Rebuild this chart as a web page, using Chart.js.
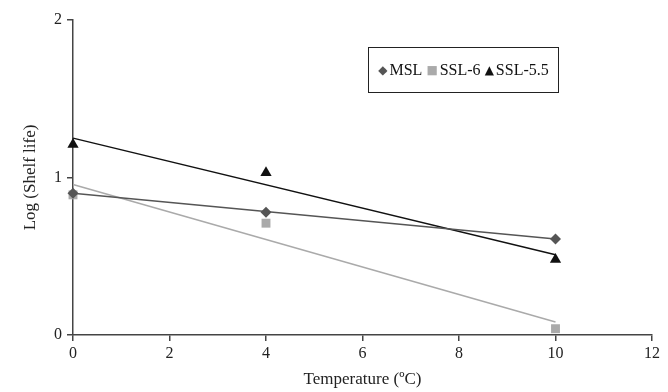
<!DOCTYPE html>
<html><head><meta charset="utf-8">
<script src="https://cdn.jsdelivr.net/npm/chart.js@4.4.0/dist/chart.umd.min.js"></script>
<style>
html,body{margin:0;padding:0;background:#fff;}
#wrap{position:relative;width:668px;height:392px;}
#legend{position:absolute;left:368px;top:47px;width:191px;height:46px;border:1px solid #222;box-sizing:border-box;
 font-family:"Liberation Serif","Times New Roman",serif;font-size:16px;color:#111;display:flex;align-items:center;justify-content:center;white-space:nowrap;}
#legend span.m{font-family:"DejaVu Sans";font-size:12px;margin-right:2px;}
</style></head>
<body><div id="wrap"><canvas id="c" width="668" height="392"></canvas>
<div id="legend"><span class="m" style="color:#555">&#9670;</span>MSL&nbsp;<span class="m" style="color:#aaa">&#9632;</span>SSL-6&nbsp;<span class="m" style="color:#111">&#9650;</span>SSL-5.5</div></div>
<script>
const temperatures = [0, 4, 10];
const seriesNames = ["MSL", "SSL-6", "SSL-5.5"];
const mslValues = [0.90, 0.78, 0.61];
const ssl6Values = [0.89, 0.71, 0.04];
const ssl55Values = [1.21, 1.03, 0.48];
const trendX = [0, 10];
const mslTrend = [0.90, 0.61];
const ssl6Trend = [0.955, 0.083];
const ssl55Trend = [1.25, 0.51];
const xTicks = [0, 2, 4, 6, 8, 10, 12];
const yTicks = [0, 1, 2];

const pts = (xs, ys) => xs.map((x, i) => ({x, y: ys[i]}));
const colors = ["#555555", "#aaaaaa", "#111111"];
const styles = ["rectRot", "rect", "triangle"];
const radii = [5.5, 6.3, 6.5];
const trends = [mslTrend, ssl6Trend, ssl55Trend];
const vals = [mslValues, ssl6Values, ssl55Values];

const datasets = [];
seriesNames.forEach((n, i) => {
  datasets.push({label: n + " trend", data: pts(trendX, trends[i]), showLine: true, borderColor: colors[i],
    borderWidth: 1.5, pointRadius: 0, fill: false, clip: false});
});
seriesNames.forEach((n, i) => {
  datasets.push({label: n, data: pts(temperatures, vals[i]), showLine: false, pointStyle: styles[i],
    pointRadius: radii[i], backgroundColor: colors[i], borderColor: colors[i], borderWidth: 0, clip: false});
});

const font = {family: "'Liberation Serif','Times New Roman',serif", size: 16};
new Chart(document.getElementById('c'), {
  type: 'scatter',
  data: {datasets},
  options: {
    responsive: false, animation: false,
    layout: {padding: {left: 0, top: 20, right: 16, bottom: 0}},
    plugins: {legend: {display: false}, tooltip: {enabled: false}},
    scales: {
      x: {type: 'linear', min: 0, max: 12,
        afterBuildTicks: s => { s.ticks = xTicks.map(v => ({value: v})); },
        afterFit: s => { s.height = 57; },
        ticks: {font, color: '#222', padding: 3, maxRotation: 0},
        grid: {display: true, drawOnChartArea: false, drawTicks: true, tickLength: 6, color: '#444', lineWidth: 1.5},
        border: {display: true, color: '#444', width: 1.5},
        title: {display: true, text: 'Temperature (ºC)', font: {...font, size: 17}, color: '#222', padding: {top: 0, bottom: 2}}
      },
      y: {type: 'linear', min: 0, max: 2,
        afterBuildTicks: s => { s.ticks = yTicks.map(v => ({value: v})); },
        afterFit: s => { s.width = 73; },
        ticks: {font, color: '#222', padding: 5},
        grid: {display: true, drawOnChartArea: false, drawTicks: true, tickLength: 6, color: '#444', lineWidth: 1.5},
        border: {display: true, color: '#444', width: 1.5},
        title: {display: true, text: 'Log (Shelf life)', font: {...font, size: 17}, color: '#222', padding: {top: 20, bottom: 0}}
      }
    }
  }
});
</script></body></html>
